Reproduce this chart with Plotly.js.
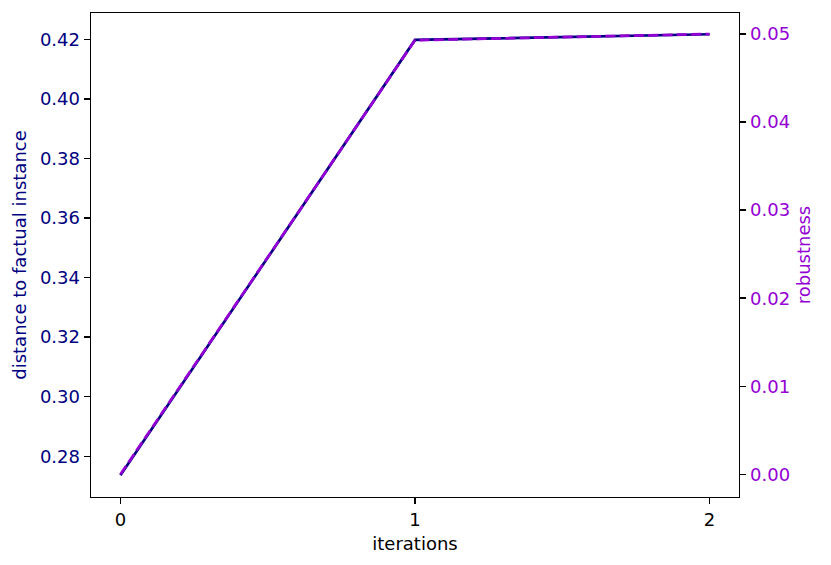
<!DOCTYPE html>
<html>
<head>
<meta charset="utf-8">
<script src="https://cdn.plot.ly/plotly-3.0.1.min.js"></script>
<style>
  html, body { margin: 0; padding: 0; background: #fff; }
  #chart { width: 831px; height: 565px; }
</style>
</head>
<body>
<div id="chart"></div>
<script>
// values
var iterations = [0, 1, 2];
var distance = [0.2736, 0.4198, 0.4217];
var robustness = [0.0, 0.0493, 0.0500];

var navy = "#000080";
var violet = "#9400d3";
var font = "DejaVu Sans, sans-serif";

var data = [{
  x: iterations,
  y: distance,
  name: "distance",
  mode: "lines",
  type: "scatter",
  yaxis: "y",
  line: { color: navy, width: 2.7 }
}, {
  x: iterations,
  y: robustness,
  name: "robustness",
  mode: "lines",
  type: "scatter",
  yaxis: "y2",
  line: { color: violet, width: 2.7, dash: "10px,4.3px" }
}];

var layout = {
  width: 831,
  height: 565,
  showlegend: false,
  paper_bgcolor: "#fff",
  plot_bgcolor: "#fff",
  font: { family: font, size: 18, color: "#000" },
  margin: { l: 91, r: 91.5, t: 13, b: 68.3 },
  xaxis: {
    range: [-0.1, 2.1],
    tickvals: [0, 1, 2],
    ticks: "outside", ticklen: 6, tickwidth: 1.4, tickcolor: "#000",
    showline: true, linecolor: "#000", linewidth: 1.4, mirror: true,
    showgrid: false, zeroline: false,
    tickfont: { family: font, size: 18, color: "#000" },
    title: { text: "iterations", font: { family: font, size: 18, color: "#000" }, standoff: 8 }
  },
  yaxis: {
    range: [0.26632, 0.42884],
    tickvals: [0.28, 0.30, 0.32, 0.34, 0.36, 0.38, 0.40, 0.42],
    tickformat: ".2f",
    ticks: "outside", ticklen: 6, tickwidth: 1.4, tickcolor: "#000",
    showline: true, linecolor: "#000", linewidth: 1.4, mirror: true,
    showgrid: false, zeroline: false,
    tickfont: { family: font, size: 18, color: navy },
    title: { text: "distance to factual instance", font: { family: font, size: 18, color: navy }, standoff: 8 }
  },
  yaxis2: {
    overlaying: "y",
    side: "right",
    range: [-0.00258, 0.05239],
    tickvals: [0, 0.01, 0.02, 0.03, 0.04, 0.05],
    tickformat: ".2f",
    ticks: "outside", ticklen: 6, tickwidth: 1.4, tickcolor: "#000",
    showline: true, linecolor: "#000", linewidth: 1.4,
    showgrid: false, zeroline: false,
    tickfont: { family: font, size: 18, color: violet },
    title: { text: "robustness", font: { family: font, size: 18, color: violet }, standoff: 8 }
  }
};

Plotly.newPlot("chart", data, layout, { displayModeBar: false, staticPlot: true });
</script>
</body>
</html>
